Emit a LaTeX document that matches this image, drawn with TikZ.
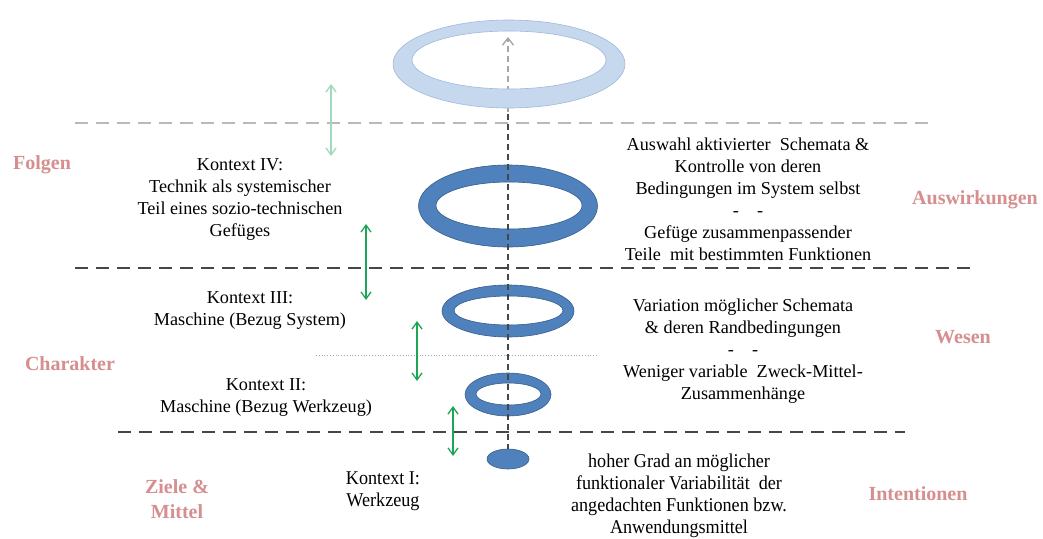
\documentclass[tikz,border=0pt]{standalone}
\usepackage{fontspec}
\setmainfont{Liberation Serif}
\usetikzlibrary{arrows.meta,shapes.geometric}
\definecolor{ringblue}{RGB}{79,129,189}
\definecolor{ringedge}{RGB}{56,93,138}
\definecolor{lightring}{RGB}{198,216,238}
\definecolor{lightedge}{RGB}{160,185,218}
\definecolor{pinklab}{RGB}{214,142,142}
\definecolor{arrgreen}{RGB}{30,165,85}
\definecolor{lightgreen}{RGB}{160,218,188}
\definecolor{darkdash}{RGB}{70,70,70}
\definecolor{lightdash}{RGB}{185,185,185}
\tikzset{
  body/.style={font=\fontsize{18.2}{22}\selectfont, align=center, text=black, inner sep=0pt},
  narrow/.style={font=\fontsize{19.5}{22}\selectfont, align=center, text=black, inner sep=0pt, xscale=0.93},
  side/.style={font=\fontsize{20}{25}\selectfont\bfseries, align=center, text=pinklab, inner sep=0pt},
  sepline/.style={line width=2pt, dash pattern=on 13pt off 8pt},
  greenarrow/.style={draw=arrgreen, line width=1.3pt, {Straight Barb[length=7pt,width=10pt]}-{Straight Barb[length=7pt,width=10pt]}},
  ringstyle/.style={fill=ringblue, draw=ringedge, line width=0.6pt, even odd rule},
}
\begin{document}
\begin{tikzpicture}[x=1pt,y=-1pt]
\useasboundingbox (0,0) rectangle (1043,538);
\fill[white] (0,0) rectangle (1043,538);

% separator lines
\coordinate (l1a) at (75,123); \coordinate (l1b) at (932,123);
\coordinate (l2a) at (75,268); \coordinate (l2b) at (975,268);
\coordinate (l3a) at (118,432); \coordinate (l3b) at (905,432);
\coordinate (dota) at (316,355); \coordinate (dotb) at (598,355);
\draw[sepline, draw=lightdash] (l1a) -- (l1b);
\draw[sepline, draw=darkdash] (l2a) -- (l2b);
\draw[sepline, draw=darkdash] (l3a) -- (l3b);
\draw[draw=gray!70, line width=0.8pt, dotted] (dota) -- (dotb);

% gray dashed arrow into the top ring
\coordinate (ga) at (508,112);
\coordinate (gb) at (508,37);
\draw[draw=lightdash!90!black, line width=1.4pt, dash pattern=on 6pt off 4pt, -{Straight Barb[length=7pt,width=11pt]}] (ga) -- (gb);

% top light ring
\path[fill=lightring, draw=lightedge, line width=0.6pt, even odd rule]
  (509,64) ellipse [x radius=116, y radius=44]
  (509,60) ellipse [x radius=97, y radius=29];
\node (topring) at (509,64) {};

% rings
\path[ringstyle] (508,206) ellipse [x radius=89.5, y radius=41] (509,205.5) ellipse [x radius=73, y radius=23.5];
\path[ringstyle] (508,311) ellipse [x radius=66, y radius=26] (508.5,310.5) ellipse [x radius=54.5, y radius=14.5];
\path[ringstyle] (508,394.5) ellipse [x radius=43, y radius=21.5] (508.5,394) ellipse [x radius=32.5, y radius=11];
\node[ellipse, fill=ringblue, draw=ringedge, line width=0.6pt, minimum width=42pt, minimum height=20pt, inner sep=0pt] (solid) at (508,459) {};

% central dashed line
\coordinate (ca) at (508,114);
\draw[draw=darkdash, line width=1.6pt, dash pattern=on 6pt off 4pt] (ca) -- (solid.north);

% green double arrows
\coordinate (a1t) at (331,84); \coordinate (a1b) at (331,156);
\coordinate (a2t) at (366,224); \coordinate (a2b) at (366,300);
\coordinate (a3t) at (417,321); \coordinate (a3b) at (417,381);
\coordinate (a4t) at (453,406); \coordinate (a4b) at (453,456);
\draw[greenarrow, draw=lightgreen] (a1t) -- (a1b);
\draw[greenarrow] (a2t) -- (a2b);
\draw[greenarrow] (a3t) -- (a3b);
\draw[greenarrow] (a4t) -- (a4b);

% side labels
\node[side] (folgen) at (42,165) {Folgen};
\node[side] (charakter) at (70,364) {Charakter};
\node[side] (ziele) at (177,499) {Ziele \&\\Mittel};
\node[side] (ausw) at (975,200) {Auswirkungen};
\node[side] (wesen) at (963,337) {Wesen};
\node[side] (intent) at (918,494) {Intentionen};

% context texts
\node[body] (k4) at (240,200) {Kontext IV:\\Technik als systemischer\\Teil eines sozio-technischen\\Gefüges};
\node[body] (k3) at (250,311) {Kontext III:\\Maschine (Bezug System)};
\node[body] (k2) at (266,397) {Kontext II:\\Maschine (Bezug Werkzeug)};
\node[narrow] (k1) at (383,491) {Kontext I:\\Werkzeug};

% right texts
\node[body] (r1) at (748,199) {Auswahl aktivierter\ \ Schemata \&\\Kontrolle von deren\\Bedingungen im System selbst\\-\quad-\\Gefüge zusammenpassender\\Teile\ \ mit bestimmten Funktionen};
\node[body] (r2) at (743,351) {Variation möglicher Schemata\\\& deren Randbedingungen\\-\quad-\\Weniger variable\ \ Zweck-Mittel-\\Zusammenhänge};
\node[narrow] (r3) at (679,496) {hoher Grad an möglicher\\funktionaler Variabilität\ \ der\\angedachten Funktionen bzw.\\Anwendungsmittel};
\end{tikzpicture}
\end{document}
